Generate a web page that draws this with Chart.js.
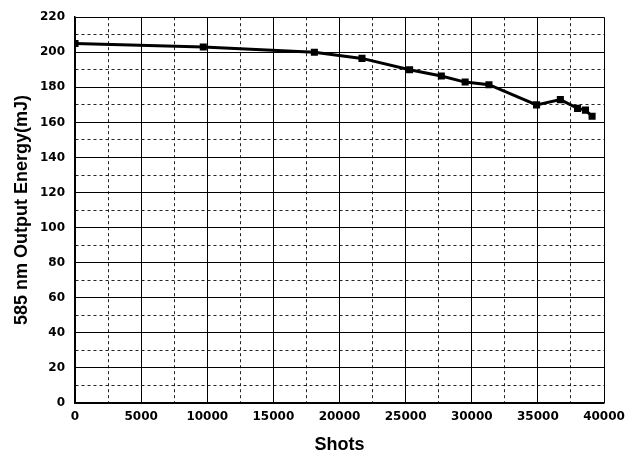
<!DOCTYPE html>
<html>
<head>
<meta charset="utf-8">
<script src="https://cdn.jsdelivr.net/npm/chart.js@4"></script>
<style>
  html, body { margin: 0; padding: 0; background: #fff; }
</style>
</head>
<body>
<canvas id="chart" width="638" height="459"></canvas>
<script>
// shots vs 585 nm output energy
const shots = [0, 9700, 18100, 21700, 25300, 27700, 29500, 31300, 34900, 36700, 38000, 38600, 39100];
const energy = [205, 203, 200, 196.5, 190, 186.5, 183, 181.5, 170, 173, 168, 167, 163.5];

const xTitle = 'Shots';
const yTitle = '585 nm Output Energy(mJ)';

const tickFont = { family: 'DejaVu Sans', size: 12, weight: 'bold' };
const titleFont = { family: 'Liberation Sans', size: 18, weight: 'bold' };

// solid at labelled ticks, dashed in between
function isMajor(ctx, step) {
  return !ctx.tick || Math.round(ctx.tick.value) % step === 0;
}

const points = shots.map((s, i) => ({ x: s, y: energy[i] }));

new Chart(document.getElementById('chart'), {
  type: 'line',
  data: {
    datasets: [{
      data: points,
      borderColor: '#000',
      backgroundColor: '#000',
      borderWidth: 3,
      pointStyle: 'rect',
      pointRadius: 5,
      pointBorderWidth: 0,
      tension: 0
    }]
  },
  options: {
    responsive: false,
    animation: false,
    layout: { padding: { top: 13, right: 34, left: 0, bottom: 0 } },
    plugins: { legend: { display: false }, tooltip: { enabled: false } },
    scales: {
      x: {
        type: 'linear',
        min: 0,
        max: 40000,
        afterFit: (s) => { s.height = 56; },
        ticks: {
          stepSize: 2500,
          maxTicksLimit: 100,
          autoSkip: false,
          maxRotation: 0,
          padding: 7,
          color: '#000',
          font: tickFont,
          callback: (v) => (v % 5000 === 0 ? String(v) : '')
        },
        grid: {
          drawTicks: false,
          color: (ctx) => (isMajor(ctx, 5000) ? '#000' : '#222'),
          lineWidth: 1
        },
        border: {
          color: '#000',
          width: 1.5,
          dash: (ctx) => (isMajor(ctx, 5000) ? [] : [3, 3])
        },
        title: {
          display: true,
          text: xTitle,
          color: '#000',
          font: titleFont,
          padding: { top: 0, bottom: 3 }
        }
      },
      y: {
        min: 0,
        max: 220,
        afterFit: (s) => { s.width = 75; },
        ticks: {
          stepSize: 10,
          maxTicksLimit: 100,
          autoSkip: false,
          padding: 10,
          color: '#000',
          font: tickFont,
          callback: (v) => (v % 20 === 0 ? String(v) : '')
        },
        grid: {
          drawTicks: false,
          color: (ctx) => (isMajor(ctx, 20) ? '#000' : '#222'),
          lineWidth: 1
        },
        border: {
          color: '#000',
          width: 1.5,
          dash: (ctx) => (isMajor(ctx, 20) ? [] : [3, 3])
        },
        title: {
          display: true,
          text: yTitle,
          color: '#000',
          font: titleFont,
          padding: { top: 11, bottom: 0 }
        }
      }
    }
  }
});
</script>
</body>
</html>
